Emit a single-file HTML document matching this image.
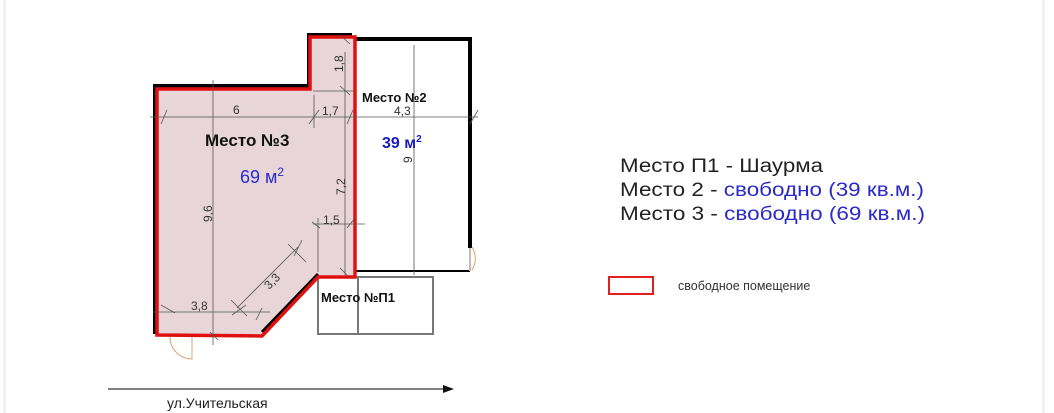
<!DOCTYPE html>
<html><head><meta charset="utf-8"><style>
html,body{margin:0;padding:0;background:#fff;width:1054px;height:413px;overflow:hidden}
svg{display:block}
text{font-family:"Liberation Sans",sans-serif}
</style></head><body>
<svg width="1054" height="413" viewBox="0 0 1054 413" xmlns="http://www.w3.org/2000/svg">
<line x1="4.5" y1="0" x2="4.5" y2="413" stroke="#eceef2" stroke-width="2"/>
<line x1="1043.5" y1="0" x2="1043.5" y2="413" stroke="#eceef2" stroke-width="2"/>

<!-- P1 box -->
<rect x="318" y="277" width="115" height="57" fill="#fff" stroke="#777" stroke-width="2"/>
<line x1="358" y1="277" x2="358" y2="334" stroke="#777" stroke-width="2"/>

<!-- Place 2 black walls -->
<polyline points="353,39 470,39 470,248" fill="none" stroke="#000" stroke-width="4"/>
<line x1="355" y1="271" x2="470" y2="271" stroke="#000" stroke-width="2"/>
<line x1="470" y1="248" x2="470" y2="271" stroke="#bbb" stroke-width="2"/>
<path d="M472,247 A22,22 0 0 1 472,270" fill="none" stroke="#e0a070" stroke-width="1"/>

<!-- Place 3 fill -->
<polygon points="157,88 310,88 310,37 355,37 355,277 318,277 262,335 157,335" fill="#e8d5d7"/>
<!-- black wall underlay -->
<polyline points="155,334 155,86 309,86 309,35 352,35" fill="none" stroke="#000" stroke-width="4"/>
<polyline points="318,274 262,332" fill="none" stroke="#000" stroke-width="3"/>
<!-- red outline -->
<polygon points="157,89 310,89 310,37 355,37 355,277 318,277 262,336 157,335" fill="none" stroke="#e01010" stroke-width="3.5"/>

<!-- dimension lines -->
<g stroke="#555" stroke-width="0.8" fill="none">
<line x1="150" y1="117" x2="478" y2="117"/>
<line x1="213" y1="80" x2="213" y2="345"/>
<line x1="313" y1="91" x2="355" y2="91"/>
<line x1="314" y1="95" x2="314" y2="128"/>
<line x1="414" y1="45" x2="414" y2="275"/>
<line x1="345" y1="52" x2="345" y2="275"/>
<line x1="313" y1="224" x2="365" y2="224"/>
<line x1="318" y1="218" x2="318" y2="272"/>
<line x1="153" y1="312" x2="270" y2="312"/>
<line x1="237" y1="308" x2="298" y2="247"/>
<line x1="231" y1="300" x2="247" y2="316"/>
<line x1="288" y1="244" x2="306" y2="262"/>
<line x1="232" y1="315" x2="246" y2="305"/>
<line x1="294" y1="256" x2="302" y2="240"/>
<line x1="262" y1="308" x2="256" y2="320"/>
<line x1="167" y1="110" x2="161" y2="124"/>
<line x1="319" y1="110" x2="309" y2="124"/>
<line x1="353" y1="110" x2="347" y2="124"/>
<line x1="478" y1="110" x2="470" y2="124"/>
<line x1="175" y1="313" x2="161" y2="305"/>
<line x1="210" y1="332" x2="218" y2="340"/>
<line x1="340" y1="35" x2="350" y2="44"/>
<line x1="340" y1="86" x2="350" y2="95"/>
<line x1="320" y1="228" x2="312" y2="222"/>
<line x1="355" y1="218" x2="347" y2="228"/>
<line x1="340" y1="268" x2="348" y2="276"/>
</g>

<g font-size="12" fill="#333">
<text x="233" y="114">6</text>
<text x="322" y="115">1,7</text>
<text x="394" y="115">4,3</text>
<text x="323" y="224">1,5</text>
<text x="191" y="310">3,8</text>
<text transform="translate(343,72) rotate(-90)">1,8</text>
<text transform="translate(345,195) rotate(-90)">7,2</text>
<text transform="translate(212,222) rotate(-90)">9,6</text>
<text transform="translate(412,163) rotate(-90)">9</text>
<text transform="translate(269,290) rotate(-45)">3,3</text>
</g>

<text x="205" y="146" font-size="17" font-weight="bold" fill="#111">Место №3</text>
<text x="240" y="183" font-size="18" fill="#2a2ad0">69 м<tspan font-size="12" dy="-7">2</tspan></text>
<text x="362" y="102" font-size="13" font-weight="bold" fill="#111">Место №2</text>
<text x="382" y="148" font-size="16" font-weight="bold" fill="#1a1ac0">39 м<tspan font-size="10" dy="-6">2</tspan></text>
<text x="321" y="302" font-size="13" font-weight="bold" fill="#111">Место №П1</text>

<path d="M170,337 A22,22 0 0 0 192,359 L192,337" fill="none" stroke="#e0a070" stroke-width="1"/>

<!-- arrow -->
<line x1="108" y1="389" x2="444" y2="389" stroke="#333" stroke-width="1.2"/>
<polygon points="443,385 454,389 443,393" fill="#111"/>
<text x="167" y="408" font-size="14" fill="#222">ул.Учительская</text>

<g font-size="19" fill="#222">
<text x="620" y="172" textLength="203" lengthAdjust="spacingAndGlyphs">Место П1 - Шаурма</text>
<text x="620" y="196" textLength="304" lengthAdjust="spacingAndGlyphs">Место 2 - <tspan fill="#2a2ac8">свободно (39 кв.м.)</tspan></text>
<text x="620" y="220" textLength="305" lengthAdjust="spacingAndGlyphs">Место 3 - <tspan fill="#2a2ac8">свободно (69 кв.м.)</tspan></text>
</g>
<rect x="609" y="277" width="44" height="17" fill="#fff" stroke="#e02020" stroke-width="2"/>
<text x="678" y="290" font-size="12.5" fill="#333">свободное помещение</text>
</svg>
</body></html>
